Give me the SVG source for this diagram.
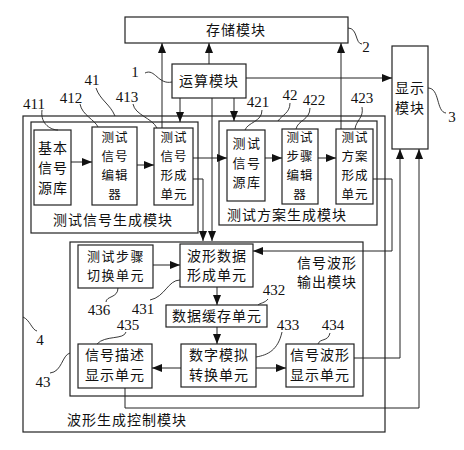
<svg xmlns="http://www.w3.org/2000/svg" width="464" height="450" viewBox="0 0 464 450">
<defs>
<marker id="a" markerWidth="10" markerHeight="8" refX="10" refY="4" orient="auto" markerUnits="userSpaceOnUse"><path d="M0,0 L10,4 L0,8 z" fill="#111"/></marker>
<style>
rect{fill:none;stroke:#222;stroke-width:1.2}
.c path{fill:none;stroke:#222;stroke-width:1}
.c path.ar{marker-end:url(#a)}
.l path{fill:none;stroke:#222;stroke-width:0.9}
text{font-family:"Noto Sans CJK SC","Noto Sans CJK JP",sans-serif;font-size:14px;fill:#111;text-anchor:middle;letter-spacing:1px}
text.s{font-size:12.5px}
text.m{font-size:13px;letter-spacing:1.5px}
text.n{font-family:"Liberation Serif",serif;font-size:15px;letter-spacing:0}
</style>
</defs>
<rect x="0" y="0" width="464" height="450" style="fill:#fff;stroke:none"/>
<g id="storage"><rect x="125" y="17" width="223" height="26"/><text x="236" y="35">存储模块</text></g>
<g id="compute"><rect x="172" y="64" width="74" height="34"/><text x="209" y="86">运算模块</text></g>
<g id="display"><rect x="392" y="46" width="36" height="103"/><text x="410" y="93">显示</text><text x="410" y="113">模块</text></g>
<g id="wavectl"><rect x="23" y="116" width="362" height="316"/><text x="127" y="425">波形生成控制模块</text></g>
<g id="testsig"><rect x="31" y="122" width="167" height="111"/><text x="113" y="225">测试信号生成模块</text></g>
<g id="basic"><rect x="34" y="130" width="37" height="75"/><text x="53" y="153">基本</text><text x="53" y="173">信号</text><text x="53" y="193">源库</text></g>
<g id="sigedit"><rect x="92" y="127" width="45" height="78"/><text class="s" x="115" y="142">测试</text><text class="s" x="115" y="161">信号</text><text class="s" x="115" y="180">编辑</text><text class="s" x="115" y="199">器</text></g>
<g id="sigform"><rect x="154" y="128" width="39" height="77"/><text class="s" x="174" y="142">测试</text><text class="s" x="174" y="161">信号</text><text class="s" x="174" y="180">形成</text><text class="s" x="174" y="199">单元</text></g>
<g id="testplan"><rect x="219" y="121" width="158" height="104"/><text x="287" y="220">测试方案生成模块</text></g>
<g id="sigsrc"><rect x="227" y="130" width="38" height="71"/><text class="m" x="247" y="148">测试</text><text class="m" x="247" y="168">信号</text><text class="m" x="247" y="187">源库</text></g>
<g id="stepedit"><rect x="282" y="129" width="36" height="75"/><text class="s" x="300" y="142">测试</text><text class="s" x="300" y="161">步骤</text><text class="s" x="300" y="180">编辑</text><text class="s" x="300" y="199">器</text></g>
<g id="planform"><rect x="336" y="129" width="37" height="75"/><text class="s" x="355" y="142">测试</text><text class="s" x="355" y="161">方案</text><text class="s" x="355" y="180">形成</text><text class="s" x="355" y="199">单元</text></g>
<g id="waveout"><rect x="70" y="242" width="293" height="154"/><text x="327" y="268">信号波形</text><text x="327" y="287">输出模块</text></g>
<g id="stepswitch"><rect x="78" y="245" width="75" height="43"/><text class="m" x="116" y="261">测试步骤</text><text class="m" x="116" y="280">切换单元</text></g>
<g id="wavedata"><rect x="180" y="244" width="73" height="43"/><text x="217" y="261">波形数据</text><text x="217" y="280">形成单元</text></g>
<g id="buffer"><rect x="166" y="305" width="101" height="22"/><text x="217" y="321">数据缓存单元</text></g>
<g id="sigdesc"><rect x="78" y="344" width="74" height="44"/><text x="115" y="360">信号描述</text><text x="115" y="380">显示单元</text></g>
<g id="dac"><rect x="181" y="344" width="75" height="43"/><text x="219" y="360">数字模拟</text><text x="219" y="380">转换单元</text></g>
<g id="wavedisp"><rect x="286" y="344" width="68" height="43"/><text x="320" y="360">信号波形</text><text x="320" y="380">显示单元</text></g>
<g id="connectors" class="c">
<path class="ar" d="M209,64 V43"/>
<path class="ar" d="M162,128 V43"/>
<path class="ar" d="M341,129 V43"/>
<path class="ar" d="M246,78 H392"/>
<path class="ar" d="M180,98 V122"/>
<path class="ar" d="M234,98 V121"/>
<path class="ar" d="M212,98 V241"/>
<path class="ar" d="M193,179 H203 V241"/>
<path class="ar" d="M193,158 H227"/>
<path class="ar" d="M71,162 H92"/>
<path class="ar" d="M137,165 H154"/>
<path class="ar" d="M265,158 H282"/>
<path class="ar" d="M318,158 H336"/>
<path class="ar" d="M373,179 H392 V251 H253"/>
<path class="ar" d="M153,265 H180"/>
<path class="ar" d="M217,287 V305"/>
<path class="ar" d="M217,327 V344"/>
<path class="ar" d="M181,368 H152"/>
<path class="ar" d="M256,368 H286"/>
<path class="ar" d="M354,358 H400 V149"/>
<path class="ar" d="M125,388 V408 H419 V149"/>
</g>
<g id="labels" class="l">
<path d="M145,73 C155,68 158,85 172,82"/>
<path d="M348,28 C358,28 355,44 362,44"/>
<path d="M428,88 C440,88 436,112 446,113"/>
<path d="M96,88 C100,100 110,104 115,116"/>
<path d="M42,110 C40,125 52,130 58,130"/>
<path d="M80,104 C82,115 95,120 98,127"/>
<path d="M133,104 C135,115 152,118 157,128"/>
<path d="M262,110 C262,122 248,122 245,130"/>
<path d="M290,103 C290,113 282,115 278,121"/>
<path d="M310,108 C310,120 298,120 296,129"/>
<path d="M362,107 C364,118 356,120 355,129"/>
<path d="M23,317 C30,320 32,330 37,331"/>
<path d="M50,373 C62,372 62,355 70,353"/>
<path d="M118,288 C118,298 106,296 106,302"/>
<path d="M180,280 C168,280 165,297 150,300"/>
<path d="M268,299 C265,303 260,303 258,305"/>
<path d="M126,332 C124,340 105,335 97,344"/>
<path d="M282,332 C278,350 268,355 256,357"/>
<path d="M330,333 C328,342 320,338 318,344"/>
<text class="n" x="135" y="77">1</text>
<text class="n" x="366" y="52">2</text>
<text class="n" x="452" y="122">3</text>
<text class="n" x="92" y="85">41</text>
<text class="n" x="34" y="109">411</text>
<text class="n" x="71" y="103">412</text>
<text class="n" x="127" y="102">413</text>
<text class="n" x="258" y="107">421</text>
<text class="n" x="290" y="100">42</text>
<text class="n" x="314" y="105">422</text>
<text class="n" x="362" y="103">423</text>
<text class="n" x="99" y="315">436</text>
<text class="n" x="143" y="314">431</text>
<text class="n" x="274" y="295">432</text>
<text class="n" x="128" y="330">435</text>
<text class="n" x="288" y="330">433</text>
<text class="n" x="333" y="330">434</text>
<text class="n" x="40" y="345">4</text>
<text class="n" x="43" y="387">43</text>
</g>
</svg>
